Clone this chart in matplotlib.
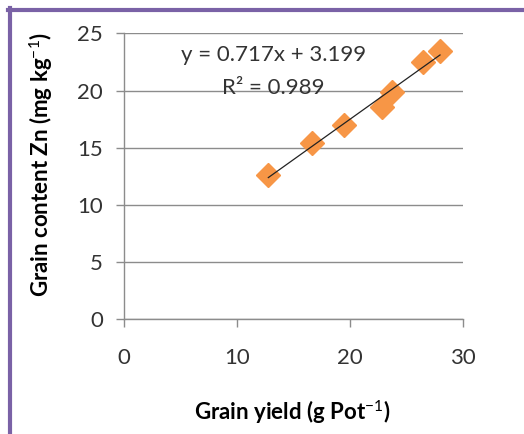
import matplotlib
matplotlib.use("Agg")
import matplotlib.pyplot as plt
from matplotlib.lines import Line2D
import numpy as np

grain_yield = [12.76, 16.6, 19.48, 22.79, 23.67, 26.46, 27.94]
grain_zn = [12.6, 15.37, 16.97, 18.57, 19.88, 22.5, 23.46]
x_ticks = [0, 10, 20, 30]
y_ticks = [0, 5, 10, 15, 20, 25]
eq_text = "y = 0.717x + 3.199"
r2_text = "R² = 0.989"

plt.rcParams['font.family'] = ['Lato', 'DejaVu Sans']
plt.rcParams['mathtext.fontset'] = 'custom'
plt.rcParams['mathtext.rm'] = 'Lato'
plt.rcParams['mathtext.bf'] = 'Lato:bold'

fig = plt.figure(figsize=(5.24, 4.34), dpi=100)
fig.patch.set_facecolor('white')
ax = fig.add_axes([124/524, 1-319.3/434, (463.3-124)/524, (319.3-33.3)/434])

grid_c = '#8c8c8c'
ax.set_xlim(0, 30)
ax.set_ylim(0, 25)
ax.set_xticks(x_ticks)
ax.set_yticks(y_ticks)
ax.yaxis.grid(True, color=grid_c, linewidth=1.0)
ax.set_axisbelow(True)
for s in ['top', 'right']:
    ax.spines[s].set_visible(False)
for s in ['left', 'bottom']:
    ax.spines[s].set_color(grid_c)
    ax.spines[s].set_linewidth(1.0)
ax.tick_params(axis='both', colors=grid_c, length=6, width=1.0, labelcolor='#333333', labelsize=16)
ax.tick_params(axis='y', pad=9)
ax.tick_params(axis='x', pad=15)

coef = np.polyfit(grain_yield, grain_zn, 1)
xs = np.array([min(grain_yield), max(grain_yield)])
ax.plot(grain_yield, grain_zn, linestyle='none', marker='D', markersize=12,
        color='#f79646', markeredgecolor='#f79646', zorder=3)
ax.plot(xs, np.polyval(coef, xs), color='#222222', linewidth=0.9, zorder=4)

ax.text(13.2, 23.08, eq_text, ha='center', va='center', fontsize=16, color='#333333')
ax.text(13.2, 20.2, r2_text, ha='center', va='center', fontsize=16, color='#333333')

ax.set_xlabel(r'Grain yield (g Pot$^{-1}$)', fontsize=16, fontweight='bold')
ax.set_ylabel(r'Grain content Zn (mg kg$^{-1}$)', fontsize=16, fontweight='bold')
ax.xaxis.set_label_coords((292.5-124)/339.3, -(398-319.3)/286)
ax.yaxis.set_label_coords(-(124-55)/339.3, (319.3-165)/286)

purple = '#7a62a6'
fig.add_artist(Line2D([8/524, 1], [1-9.5/434, 1-9.5/434], color=purple, linewidth=3, transform=fig.transFigure))
fig.add_artist(Line2D([9.5/524, 9.5/524], [0, 1-8/434], color=purple, linewidth=3, transform=fig.transFigure))

fig.savefig('out.png', dpi=100)
